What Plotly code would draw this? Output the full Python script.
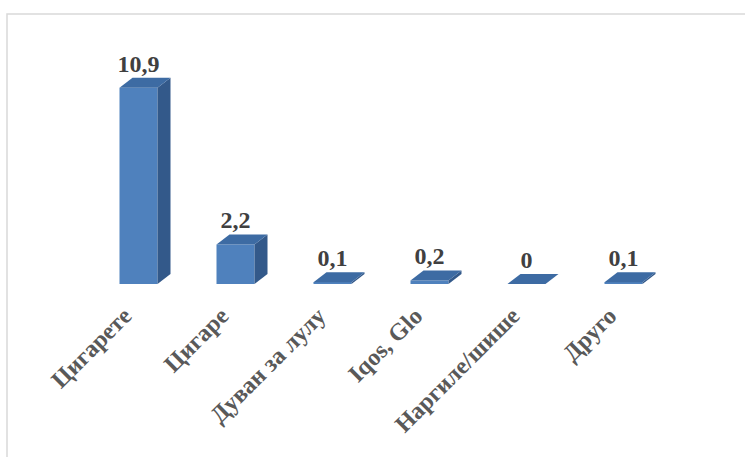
import plotly.graph_objects as go

categories = ["Цигарете", "Цигаре", "Дуван за лулу", "Iqos, Glo", "Наргиле/шише", "Друго"]
values = [10.9, 2.2, 0.1, 0.2, 0.0, 0.1]
value_labels = ["10,9", "2,2", "0,1", "0,2", "0", "0,1"]

W, H = 745, 457
ML, MR, MT, MB = 90, 73, 40, 173
plot_w = W - ML - MR
plot_h = H - MT - MB
n = len(categories)
x_px = plot_w / n          # pixels per category
bar_w = 38 / x_px
dx = 13 / x_px
dy = 10 / 18.0

FRONT = "#4F81BD"
SIDE = "#33598A"
TOP = "#3D6BA3"
SERIF = "Liberation Serif, Times New Roman, serif"

fig = go.Figure()
xs = list(range(n))
fig.add_trace(go.Bar(x=xs, y=values, width=bar_w, marker=dict(color=FRONT, line=dict(width=0)),
                     hoverinfo="skip", showlegend=False))

for i, v in enumerate(values):
    xr = i + bar_w / 2
    xl = i - bar_w / 2
    fig.add_trace(go.Scatter(x=[xr, xr + dx, xr + dx, xr, xr], y=[0, dy, v + dy, v, 0],
                             mode="lines", fill="toself", fillcolor=SIDE, line=dict(width=0),
                             hoverinfo="skip", showlegend=False))
    fig.add_trace(go.Scatter(x=[xl, xr, xr + dx, xl + dx, xl], y=[v, v, v + dy, v + dy, v],
                             mode="lines", fill="toself", fillcolor=TOP, line=dict(width=0),
                             hoverinfo="skip", showlegend=False))

fig.add_trace(go.Scatter(x=xs, y=[v + dy for v in values], mode="text", text=value_labels,
                         textposition="top center",
                         textfont=dict(family=SERIF, size=24, color="#404040", weight="bold"),
                         hoverinfo="skip", showlegend=False))

fig.update_layout(
    width=W, height=H,
    margin=dict(l=ML, r=MR, t=MT, b=MB),
    plot_bgcolor="white", paper_bgcolor="white",
    xaxis=dict(range=[-0.5, n - 0.5], tickmode="array", tickvals=xs, ticktext=categories,
               tickangle=-45, showgrid=False, zeroline=False, showline=False, ticks="",
               ticklabelstandoff=12, ticklabelshift=-14,
               tickfont=dict(family=SERIF, size=24, color="#595959", weight="bold")),
    yaxis=dict(range=[0, plot_h / 18.0], visible=False, fixedrange=True),
    shapes=[dict(type="rect", xref="paper", yref="paper",
                 x0=(7 - ML) / plot_w, x1=(W + 5 - ML) / plot_w,
                 y0=-(H + 5 - MT - plot_h) / plot_h, y1=(plot_h + MT - 14) / plot_h,
                 line=dict(color="#D9D9D9", width=1.5), fillcolor="rgba(0,0,0,0)", layer="below")],
    showlegend=False,
)

fig.write_html("out.html")
